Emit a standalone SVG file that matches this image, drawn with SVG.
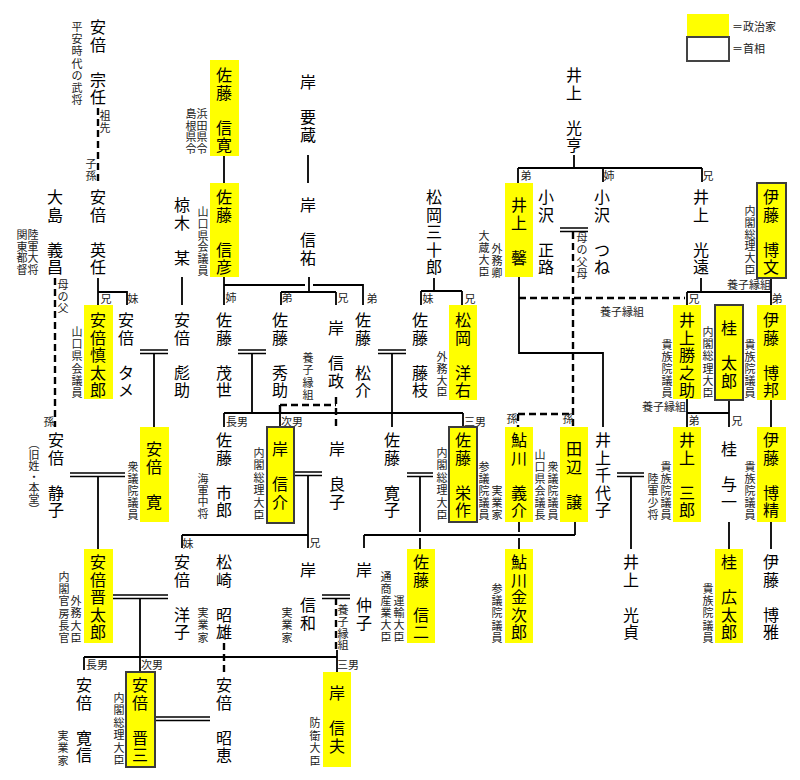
<svg xmlns="http://www.w3.org/2000/svg" width="800" height="780" viewBox="0 0 800 780">
<style>
.n{font-family:"Noto Sans CJK JP","Noto Sans CJK SC",sans-serif;font-size:16px;fill:#000;text-anchor:middle}
.s{font-family:"Noto Sans CJK JP","Noto Sans CJK SC",sans-serif;font-size:11px;fill:#222;text-anchor:middle}
.h{font-family:"Noto Sans CJK JP","Noto Sans CJK SC",sans-serif;font-size:11px;fill:#222;text-anchor:middle}
.p{fill:#ffff00}
.pm{fill:#ffff00;stroke:#3c3c3c;stroke-width:2}
.c path{fill:none;stroke:#000;stroke-width:1.8}
.c path.d{stroke-width:2.4;stroke-dasharray:7 4}
.c path.m{stroke-width:1.4}
</style>
<rect width="800" height="780" fill="#fff"/>

<g id="legend">
<rect class="p" x="687" y="14" width="42" height="23"/>
<rect x="687" y="37" width="42" height="24" fill="#fff" stroke="#444" stroke-width="2"/>
<text class="h" x="732" y="31" style="text-anchor:start">＝政治家</text>
<text class="h" x="732" y="53" style="text-anchor:start">＝首相</text>
</g>

<g id="connectors" class="c">
<path d="M224,156V183 M308,155V183 M574,155V168 M518,168H702 M518,168V183 M603,168V182 M702,168V182"/>
<path d="M98,278V305 M98,292H127V305 M182,277V305"/>
<path d="M224,277V305 M224,285H305 M313,285H363V305"/>
<path d="M309,277V292 M281,292H336 M281,292V305 M336,292V305"/>
<path d="M434,278V291 M421,291H462 M421,291V305 M462,291V305"/>
<path d="M519,277V353H603V427"/>
<path d="M701,278V292 M687,292H771 M687,292V305 M771,278V305"/>
<path d="M687,399V413H729 M729,400V427 M687,413V427 M771,400V427"/>
<path d="M154,353V427 M252,353V413 M224,413H463 M224,413V427 M280,413V427 M463,413V427 M392,353V427"/>
<path d="M98,476V549 M308,475V548 M182,535H308 M182,535V548"/>
<path d="M420,476V532 M420,538V549 M519,522V532 M519,538V549 M575,522V535 M364,535H575 M364,535V548"/>
<path d="M631,476V549 M729,522V549 M771,522V549"/>
<path d="M140,598V672 M84,657H337 M84,657V670 M337,650V672"/>
<path class="d" d="M98,108V182"/>
<path class="d" d="M55,278V427"/>
<path class="d" d="M336,397V428 M280,405H336 M280,405V413"/>
<path class="d" d="M519,298H685"/>
<path class="d" d="M573,232V427 M518,414H573 M518,414V427"/>
<path class="d" d="M224,643V672"/>
<path class="d" d="M336,598V650"/>
<path class="m" d="M140,350H168 M140,353.5H168 M238,350H266 M238,353.5H266 M378,350H406 M378,353.5H406"/>
<path class="m" d="M70,473H125 M70,476.5H125 M294,472H322 M294,475.5H322 M407,473H433 M407,476.5H433 M617,473H644 M617,476.5H644"/>
<path class="m" d="M560,228H588 M560,231.5H588 M113,595H168 M113,598.5H168 M322,595H350 M322,598.5H350 M155,717H210 M155,720.5H210"/>
</g>

<g id="rel-labels">
<text class="s" x="105 105" y="120 131.5">祖先</text>
<text class="s" x="91 91" y="168 179.5">子孫</text>
<text class="s" x="63 63 63" y="289 300.5 312">母の父</text>
<text class="s" x="49" y="426">孫</text>
<text class="s" x="582 582 582 582" y="242 254 266 278">母の父母</text>
<text class="s" x="308 308 308 308" y="362 374.4 386.8 399.2">養子縁組</text>
<text class="s" x="343 343 343 343" y="614 625.8 637.6 649.4">養子縁組</text>
<text class="h" x="106" y="303">兄</text>
<text class="h" x="133" y="303">妹</text>
<text class="h" x="231" y="302">姉</text>
<text class="h" x="287" y="302">弟</text>
<text class="h" x="343" y="302">兄</text>
<text class="h" x="372" y="303">弟</text>
<text class="h" x="428" y="303">妹</text>
<text class="h" x="470" y="303">兄</text>
<text class="h" x="526" y="180">弟</text>
<text class="h" x="609" y="180">姉</text>
<text class="h" x="708" y="180">兄</text>
<text class="h" x="694" y="303">兄</text>
<text class="h" x="777" y="303">弟</text>
<text class="h" x="749" y="289">養子縁組</text>
<text class="h" x="622" y="316">養子縁組</text>
<text class="h" x="664" y="411">養子縁組</text>
<text class="h" x="237" y="426">長男</text>
<text class="h" x="292" y="426">次男</text>
<text class="h" x="475" y="426">三男</text>
<text class="h" x="512" y="423">孫</text>
<text class="h" x="568" y="423">孫</text>
<text class="h" x="694" y="425">弟</text>
<text class="h" x="737" y="425">兄</text>
<text class="h" x="188" y="548">妹</text>
<text class="h" x="315" y="547">兄</text>
<text class="h" x="97" y="669">長男</text>
<text class="h" x="152" y="669">次男</text>
<text class="h" x="348" y="669">三男</text>
</g>

<g id="abe-munetou">
<text class="n" x="98 98 98 98 98" y="33 50.5 68 85.5 103">安倍　宗任</text>
<text class="s" x="77 77 77 77 77 77 77" y="31 43.2 55.4 67.6 79.8 92 104.2">平安時代の武将</text>
</g>
<g id="sato-nobuhiro">
<rect class="p" x="210" y="60" width="29" height="96"/>
<text class="n" x="224 224 224 224 224" y="81 98.5 116 133.5 151">佐藤　信寛</text>
<text class="s" x="202 202 202 202" y="118 129.5 141 152.5">浜田県令</text>
<text class="s" x="191 191 191 191" y="118 129.5 141 152.5">島根県令</text>
</g>
<g id="kishi-yozo">
<text class="n" x="308 308 308 308" y="88 105.5 123 140.5">岸　要蔵</text>
</g>
<g id="inoue-mitsusuke">
<text class="n" x="574 574 574 574 574" y="81 98.5 116 133.5 151">井上　光亨</text>
</g>

<g id="oshima-yoshimasa">
<text class="n" x="55 55 55 55 55" y="203 220.5 238 255.5 273">大島　義昌</text>
<text class="s" x="33 33 33 33" y="239 250.7 262.4 274.1">陸軍大将</text>
<text class="s" x="22 22 22 22" y="239 250.7 262.4 274.1">関東都督</text>
</g>
<g id="abe-eikin">
<text class="n" x="98 98 98 98 98" y="203 220.5 238 255.5 273">安倍　英任</text>
</g>
<g id="mukunoki">
<text class="n" x="182 182 182 182" y="211 228.5 246 263.5">椋木　某</text>
</g>
<g id="sato-nobuhiko">
<rect class="p" x="210" y="183" width="29" height="94"/>
<text class="n" x="224 224 224 224 224" y="203 220.5 238 255.5 273">佐藤　信彦</text>
<text class="s" x="203 203 203 203 203 203" y="216 227.8 239.6 251.4 263.2 275">山口県会議員</text>
</g>
<g id="kishi-nobusuke-sr">
<text class="n" x="308 308 308 308" y="211 228.5 246 263.5">岸　信祐</text>
</g>
<g id="matsuoka-sanjuro">
<text class="n" x="434 434 434 434 434" y="203 220.5 238 255.5 273">松岡三十郎</text>
</g>
<g id="inoue-kaoru">
<rect class="p" x="505" y="183" width="28" height="94"/>
<text class="n" x="519 519 519 519" y="211 228.5 246 263.5">井上　馨</text>
<text class="s" x="497 497 497" y="253 265 277">外務卿</text>
<text class="s" x="484 484 484 484" y="240 252 264 276">大蔵大臣</text>
</g>
<g id="ozawa-masamichi">
<text class="n" x="546 546 546 546 546" y="203 220.5 238 255.5 273">小沢　正路</text>
</g>
<g id="ozawa-tsune">
<text class="n" x="602 602 602 602 602" y="203 220.5 238 255.5 273">小沢　つね</text>
</g>
<g id="inoue-mitsutoo">
<text class="n" x="701 701 701 701 701" y="203 220.5 238 255.5 273">井上　光遠</text>
</g>
<g id="ito-hirobumi">
<rect class="pm" x="757" y="183" width="29" height="95"/>
<text class="n" x="771 771 771 771 771" y="203 220.5 238 255.5 273">伊藤　博文</text>
<text class="s" x="750 750 750 750 750 750" y="215 226.8 238.6 250.4 262.2 274">内閣総理大臣</text>
</g>

<g id="abe-shintaro-sr">
<rect class="p" x="84" y="305" width="29" height="94"/>
<text class="n" x="98 98 98 98 98" y="326 343.5 361 378.5 396">安倍慎太郎</text>
<text class="s" x="77 77 77 77 77 77" y="336 348.2 360.4 372.6 384.8 397">山口県会議員</text>
</g>
<g id="abe-tame">
<text class="n" x="126 126 126 126 126" y="326 343.5 361 378.5 396">安倍　タメ</text>
</g>
<g id="abe-hyosuke">
<text class="n" x="182 182 182 182 182" y="326 343.5 361 378.5 396">安倍　彪助</text>
</g>
<g id="sato-moyo">
<text class="n" x="224 224 224 224 224" y="326 343.5 361 378.5 396">佐藤　茂世</text>
</g>
<g id="sato-hidesuke">
<text class="n" x="280 280 280 280 280" y="326 343.5 361 378.5 396">佐藤　秀助</text>
</g>
<g id="kishi-nobumasa">
<text class="n" x="336 336 336 336" y="334 351.5 369 386.5">岸　信政</text>
</g>
<g id="sato-matsusuke">
<text class="n" x="363 363 363 363 363" y="326 343.5 361 378.5 396">佐藤　松介</text>
</g>
<g id="sato-fujie">
<text class="n" x="420 420 420 420 420" y="326 343.5 361 378.5 396">佐藤　藤枝</text>
</g>
<g id="matsuoka-yosuke">
<rect class="p" x="449" y="305" width="28" height="95"/>
<text class="n" x="463 463 463 463 463" y="326 343.5 361 378.5 396">松岡　洋右</text>
<text class="s" x="442 442 442 442" y="361 372.8 384.6 396.4">外務大臣</text>
</g>
<g id="inoue-katsunosuke">
<rect class="p" x="673" y="305" width="28" height="94"/>
<text class="n" x="687 687 687 687 687" y="326 343.5 361 378.5 396">井上勝之助</text>
<text class="s" x="667 667 667 667 667" y="349 361 373 385 397">貴族院議員</text>
</g>
<g id="katsura-taro">
<rect class="pm" x="715" y="305" width="28" height="95"/>
<text class="n" x="729 729 729 729" y="334 351.5 369 386.5">桂　太郎</text>
<text class="s" x="708 708 708 708 708 708" y="336 348.2 360.4 372.6 384.8 397">内閣総理大臣</text>
</g>
<g id="ito-hirokuni">
<rect class="p" x="757" y="305" width="29" height="95"/>
<text class="n" x="771 771 771 771 771" y="326 343.5 361 378.5 396">伊藤　博邦</text>
<text class="s" x="750 750 750 750 750" y="349 361 373 385 397">貴族院議員</text>
</g>

<g id="abe-shizuko">
<text class="n" x="56 56 56 56 56" y="446 463.5 481 498.5 516">安倍　静子</text>
<text class="s" x="34" y="438" style="writing-mode:vertical-rl;text-anchor:start">（旧姓・本堂）</text>
</g>
<g id="abe-kan">
<rect class="p" x="140" y="427" width="29" height="95"/>
<text class="n" x="154 154 154 154" y="455 472.5 490 507.5">安倍　寛</text>
<text class="s" x="133 133 133 133 133" y="471 483 495 507 519">衆議院議員</text>
</g>
<g id="sato-ichiro">
<text class="n" x="224 224 224 224 224" y="446 463.5 481 498.5 516">佐藤　市郎</text>
<text class="s" x="203 203 203 203" y="483 494.7 506.4 518.1">海軍中将</text>
</g>
<g id="kishi-nobusuke">
<rect class="pm" x="267" y="427" width="27" height="96"/>
<text class="n" x="280 280 280 280" y="455 472.5 490 507.5">岸　信介</text>
<text class="s" x="259 259 259 259 259 259" y="457 469.4 481.8 494.2 506.6 519">内閣総理大臣</text>
</g>
<g id="kishi-yoshiko">
<text class="n" x="337 337 337 337" y="455 472.5 490 507.5">岸　良子</text>
</g>
<g id="sato-hiroko">
<text class="n" x="392 392 392 392 392" y="446 463.5 481 498.5 516">佐藤　寛子</text>
</g>
<g id="sato-eisaku">
<rect class="pm" x="449" y="427" width="28" height="95"/>
<text class="n" x="463 463 463 463 463" y="446 463.5 481 498.5 516">佐藤　栄作</text>
<text class="s" x="442 442 442 442 442 442" y="457 469.4 481.8 494.2 506.6 519">内閣総理大臣</text>
</g>
<g id="aikawa-yoshisuke">
<rect class="p" x="505" y="427" width="28" height="95"/>
<text class="n" x="519 519 519 519 519" y="446 463.5 481 498.5 516">鮎川　義介</text>
<text class="s" x="497 497 497" y="495 507 519">実業家</text>
<text class="s" x="484 484 484 484 484" y="471 483 495 507 519">参議院議員</text>
</g>
<g id="tanabe-yuzuru">
<rect class="p" x="560" y="427" width="28" height="95"/>
<text class="n" x="574 574 574 574" y="455 472.5 490 507.5">田辺　譲</text>
<text class="s" x="553 553 553 553 553" y="471 483 495 507 519">衆議院議員</text>
<text class="s" x="540 540 540 540 540 540" y="459 471 483 495 507 519">山口県会議長</text>
</g>
<g id="inoue-chiyoko">
<text class="n" x="603 603 603 603 603" y="446 463.5 481 498.5 516">井上千代子</text>
</g>
<g id="inoue-saburo">
<rect class="p" x="673" y="427" width="28" height="95"/>
<text class="n" x="687 687 687 687 687" y="446 463.5 481 498.5 516">井上　三郎</text>
<text class="s" x="666 666 666 666 666" y="471 483 495 507 519">貴族院議員</text>
<text class="s" x="653 653 653 653" y="483 495 507 519">陸軍少将</text>
</g>
<g id="katsura-yoichi">
<text class="n" x="729 729 729 729" y="455 472.5 490 507.5">桂　与一</text>
</g>
<g id="ito-hirokiyo">
<rect class="p" x="757" y="427" width="29" height="95"/>
<text class="n" x="771 771 771 771 771" y="446 463.5 481 498.5 516">伊藤　博精</text>
<text class="s" x="750 750 750 750 750" y="471 483 495 507 519">貴族院議員</text>
</g>

<g id="abe-shintaro">
<rect class="p" x="84" y="549" width="29" height="94"/>
<text class="n" x="98 98 98 98 98" y="568 585.5 603 620.5 638">安倍晋太郎</text>
<text class="s" x="76 76 76 76" y="605 617.3 629.6 641.9">外務大臣</text>
<text class="s" x="64 64 64 64 64 64" y="581 593.2 605.4 617.6 629.8 642">内閣官房長官</text>
</g>
<g id="abe-yoko">
<text class="n" x="182 182 182 182 182" y="568 585.5 603 620.5 638">安倍　洋子</text>
</g>
<g id="matsuzaki-akio">
<text class="n" x="224 224 224 224 224" y="568 585.5 603 620.5 638">松崎　昭雄</text>
<text class="s" x="203 203 203" y="617 629.3 641.6">実業家</text>
</g>
<g id="kishi-nobukazu">
<text class="n" x="308 308 308 308" y="576 593.5 611 628.5">岸　信和</text>
<text class="s" x="287 287 287" y="617 629.3 641.6">実業家</text>
</g>
<g id="kishi-nakako">
<text class="n" x="364 364 364 364" y="576 593.5 611 628.5">岸　仲子</text>
</g>
<g id="sato-shinji">
<rect class="p" x="407" y="549" width="28" height="94"/>
<text class="n" x="421 421 421 421 421" y="568 585.5 603 620.5 638">佐藤　信二</text>
<text class="s" x="399 399 399 399" y="605 617 629 641">運輸大臣</text>
<text class="s" x="386 386 386 386 386 386" y="581 593 605 617 629 641">通商産業大臣</text>
</g>
<g id="aikawa-kinjiro">
<rect class="p" x="505" y="549" width="28" height="94"/>
<text class="n" x="519 519 519 519 519" y="568 585.5 603 620.5 638">鮎川金次郎</text>
<text class="s" x="497 497 497 497 497" y="593 605.2 617.4 629.6 641.8">参議院議員</text>
</g>
<g id="inoue-mitsusada">
<text class="n" x="631 631 631 631 631" y="568 585.5 603 620.5 638">井上　光貞</text>
</g>
<g id="katsura-kotaro">
<rect class="p" x="715" y="549" width="28" height="94"/>
<text class="n" x="729 729 729 729 729" y="568 585.5 603 620.5 638">桂　広太郎</text>
<text class="s" x="708 708 708 708 708" y="593 605.2 617.4 629.6 641.8">貴族院議員</text>
</g>
<g id="ito-hiromasa">
<text class="n" x="771 771 771 771 771" y="568 585.5 603 620.5 638">伊藤　博雅</text>
</g>

<g id="abe-hironobu">
<text class="n" x="84 84 84 84 84" y="691 708.5 726 743.5 761">安倍　寛信</text>
<text class="s" x="63 63 63" y="740 752.3 764.6">実業家</text>
</g>
<g id="abe-shinzo">
<rect class="pm" x="126" y="672" width="29" height="95"/>
<text class="n" x="140 140 140 140 140" y="691 708.5 726 743.5 761">安倍　晋三</text>
<text class="s" x="119 119 119 119 119 119" y="702 714.4 726.8 739.2 751.6 764">内閣総理大臣</text>
</g>
<g id="abe-akie">
<text class="n" x="224 224 224 224 224" y="691 708.5 726 743.5 761">安倍　昭恵</text>
</g>
<g id="kishi-nobuo">
<rect class="p" x="323" y="672" width="28" height="95"/>
<text class="n" x="337 337 337 337" y="699 716.5 734 751.5">岸　信夫</text>
<text class="s" x="315 315 315 315" y="727 739.5 752 764.5">防衛大臣</text>
</g>
</svg>
